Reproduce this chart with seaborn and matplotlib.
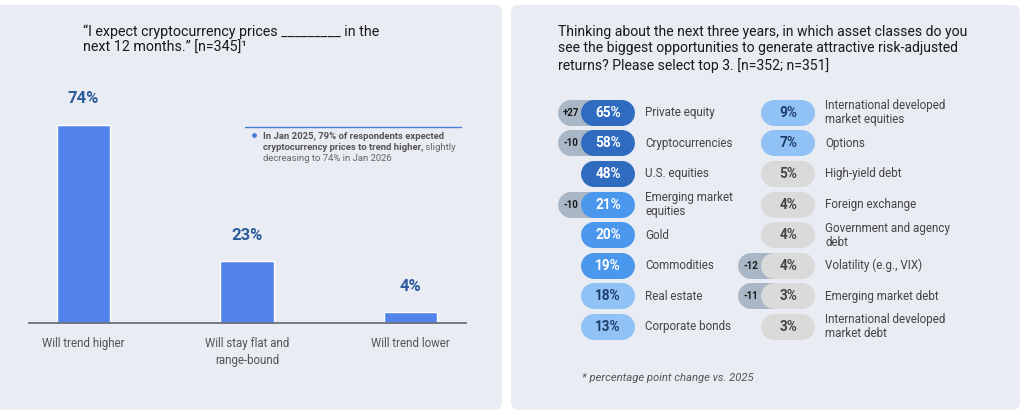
import matplotlib
matplotlib.use("Agg")
import matplotlib.pyplot as plt
from matplotlib.patches import FancyBboxPatch
import seaborn as sns
import pandas as pd

# ---------------- data ----------------
bar_categories = ["Will trend higher", "Will stay flat and\nrange-bound", "Will trend lower"]
bar_values = [74, 23, 4]

left_assets = ["Private equity", "Cryptocurrencies", "U.S. equities", "Emerging market\nequities",
               "Gold", "Commodities", "Real estate", "Corporate bonds"]
left_shares = [65, 58, 48, 21, 20, 19, 18, 13]
left_changes = ["+27", "-10", "", "-10", "", "", "", ""]

right_assets = ["International developed\nmarket equities", "Options", "High-yield debt",
                "Foreign exchange", "Government and agency\ndebt", "Volatility (e.g., VIX)",
                "Emerging market debt", "International developed\nmarket debt"]
right_shares = [9, 7, 5, 4, 4, 4, 3, 3]
right_changes = ["", "", "", "", "", "-12", "-11", ""]

# ---------------- style ----------------
sns.set_theme(style="white")
plt.rcParams["font.family"] = ["Roboto", "DejaVu Sans"]

PANEL = "#E9ECF3"
BAR = "#5384EC"
LABEL_BLUE = "#2D5C9C"

fig = plt.figure(figsize=(10.24, 4.15), dpi=100)
fig.patch.set_facecolor("white")

# background / overlay axes in pixel units
bg = fig.add_axes([0, 0, 1, 1])
bg.set_xlim(0, 1024)
bg.set_ylim(415, 0)
bg.axis("off")
bg.set_zorder(0)

for x0, x1 in [(-8, 502), (511, 1020)]:
    bg.add_patch(FancyBboxPatch((x0 + 8, 13), (x1 - x0) - 16, 389,
                                boxstyle="round,pad=8", fc=PANEL, ec="none", zorder=0))

# ---------------- left: bar chart ----------------
ax = fig.add_axes([28.7 / 1024, 1 - 322.7 / 415, 437 / 1024, 262.7 / 415])
ax.set_zorder(1)
ax.patch.set_visible(False)
df = pd.DataFrame({"cat": bar_categories, "val": bar_values})
sns.barplot(data=df, x="cat", y="val", color=BAR, saturation=1, width=0.325, ax=ax)
ax.set_xlim(-0.336, 2.339)
ax.set_ylim(0, 262.7 / 2.672)
ax.set_xlabel("")
ax.set_ylabel("")
ax.set_yticks([])
for s in ["top", "right", "left"]:
    ax.spines[s].set_visible(False)
ax.spines["bottom"].set_color("#6b6f78")
ax.spines["bottom"].set_linewidth(1.3)
ax.tick_params(axis="x", length=0, pad=10, labelsize=8.3, labelcolor="#555555")
for lbl in ax.get_xticklabels():
    lbl.set_linespacing(1.4)
for i, v in enumerate(bar_values):
    ax.annotate(f"{v}%", (i, v), xytext=(0, 18.7), textcoords="offset points",
                ha="center", va="center", fontsize=12, fontweight="bold", color=LABEL_BLUE)

bg.text(83, 39.5, "\u201cI expect cryptocurrency prices _________ in the\nnext 12 months.\u201d [n=345]\u00b9",
        ha="left", va="center", fontsize=10.3, color="#1a1a1a", linespacing=1.2)

# annotation box
bg.plot([245, 461], [127, 127], color="#4A7FD9", lw=1)
bg.plot([254], [135.5], marker="o", ms=2.5, color="#4A7FD9")
t1 = bg.text(263, 136, "In Jan 2025, 79% of respondents expected", ha="left", va="center",
             fontsize=6.8, fontweight="bold", color="#555555")
t2 = bg.text(263, 147, "cryptocurrency prices to trend higher,", ha="left", va="center",
             fontsize=6.8, fontweight="bold", color="#555555")
bg.annotate(" slightly", xy=(1, 0), xycoords=t2, ha="left", va="bottom",
            fontsize=6.8, color="#666666")
bg.text(263, 158, "decreasing to 74% in Jan 2026", ha="left", va="center",
        fontsize=6.8, color="#666666")

# ---------------- right: pills ----------------
bg.text(558, 49, "Thinking about the next three years, in which asset classes do you\n"
        "see the biggest opportunities to generate attractive risk-adjusted\n"
        "returns? Please select top 3. [n=352; n=351]",
        ha="left", va="center", fontsize=10.1, color="#1a1a1a", linespacing=1.22)

ROW0, STEP = 112.7, 30.6
PILL_LW = 26 * 0.72  # points for 26 px tall pills


def tier(v):
    if v >= 40:
        return "#2F6BBF", "white"
    if v >= 19:
        return "#4A97EE", "white"
    if v >= 7:
        return "#90C2F6", "#1F3D6B"
    return "#DADADA", "#444444"


def draw_column(assets, shares, changes, pill_c, chg_left, label_x):
    for i, (a, v, c) in enumerate(zip(assets, shares, changes)):
        y = ROW0 + i * STEP
        if c:
            bg.plot([chg_left + 13, pill_c], [y, y], color="#A9B6C6", lw=PILL_LW,
                    solid_capstyle="round", zorder=2)
            bg.text(chg_left + 13.3, y, c, ha="center", va="center", fontsize=7,
                    fontweight="bold", color="#1a1a1a", zorder=5)
        fc, tc = tier(v)
        bg.plot([pill_c - 14, pill_c + 14], [y, y], color=fc, lw=PILL_LW,
                solid_capstyle="round", zorder=3)
        bg.text(pill_c, y, f"{v}%", ha="center", va="center", fontsize=9.8,
                fontweight="bold", color=tc, zorder=5)
        bg.text(label_x, y, a, ha="left", va="center", fontsize=8.4, color="#444444",
                linespacing=1.1, zorder=5)


draw_column(left_assets, left_shares, left_changes, 608, 557.7, 645)
draw_column(right_assets, right_shares, right_changes, 788.3, 737.5, 825)

bg.text(582, 378, "* percentage point change vs. 2025", ha="left", va="center",
        fontsize=8.1, style="italic", color="#555555")

fig.savefig("out.png", dpi=100)
